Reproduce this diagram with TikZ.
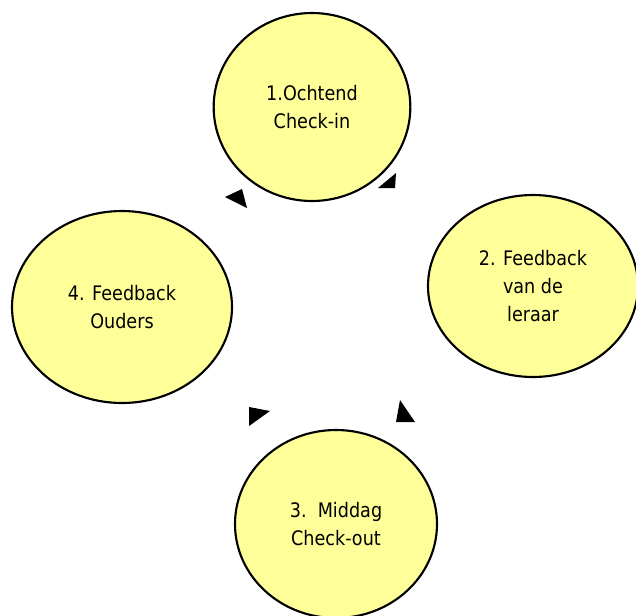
\documentclass[tikz,border=0pt]{standalone}
\usepackage{fontspec}
\setmainfont{DejaVu Sans}[FakeStretch=0.88]
\usetikzlibrary{shapes.geometric}

\tikzset{
    stap/.style={ellipse, draw=black, line width=1.6pt, fill=stapgeel, inner sep=0pt,
        align=center, font=\fontsize{15}{21}\selectfont},
    kop/.style={fill=black}
}
\definecolor{stapgeel}{HTML}{FFFF99}

\begin{document}
\begin{tikzpicture}[x=0.75pt, y=-0.75pt]
    \useasboundingbox (0,0) rectangle (636,615);

    \node[stap, minimum width=147.5pt, minimum height=141pt] (ochtend) at (312,107) {1.Ochtend\\Check-in};
    \node[stap, minimum width=157.5pt, minimum height=136.5pt] (leraar) at (533,286) {2. Feedback\\van de\\leraar};
    \node[stap, minimum width=151.5pt, minimum height=141pt] (middag) at (336,524) {3.\ \ Middag\\Check-out};
    \node[stap, minimum width=165pt, minimum height=144pt] (ouders) at (122,307) {4. Feedback\\Ouders};

    % pijlpunten van de cyclus
    \coordinate (p1) at (225,197); \coordinate (p2) at (378,188);
    \coordinate (p3) at (400,400); \coordinate (p4) at (270,411);

    \fill[kop] (p1) -- (242,189) -- (247,208) -- cycle;
    \fill[kop] (p2) -- (396,173) -- (395,188) -- cycle;
    \fill[kop] (p3) -- (396,422) -- (415,422) -- cycle;
    \fill[kop] (p4) -- (249,407) -- (249,426) -- cycle;
\end{tikzpicture}
\end{document}
